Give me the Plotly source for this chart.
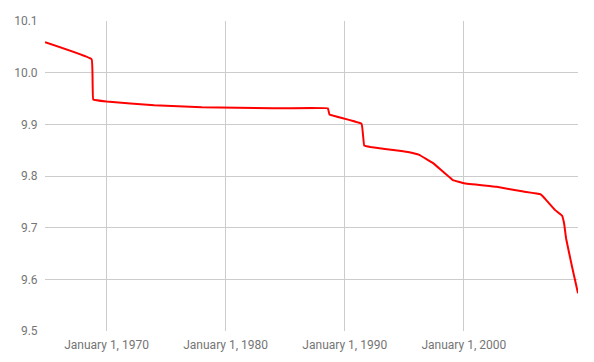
import plotly.graph_objects as go

dates = ["1964-11-01", "1968-10-01", "1968-11-20", "1970-01-01", "1974-01-01", "1978-01-01",
         "1984-01-01", "1988-08-01", "1988-09-20", "1991-06-01", "1991-08-20", "1992-03-01",
         "1994-08-01", "1995-06-01", "1996-04-01", "1997-06-01", "1999-02-01", "2000-01-01",
         "2002-10-01", "2005-01-01", "2006-06-01", "2006-09-01", "2007-09-01", "2008-04-01",
         "2008-06-01", "2008-08-01", "2009-02-01", "2009-08-01"]
values = [10.059, 10.026, 9.948, 9.944, 9.937, 9.933,
          9.931, 9.931, 9.919, 9.901, 9.859, 9.856,
          9.849, 9.846, 9.841, 9.825, 9.792, 9.786,
          9.779, 9.770, 9.765, 9.760, 9.734, 9.723,
          9.708, 9.679, 9.624, 9.573]
x_ticks = ["1970-01-01", "1980-01-01", "1990-01-01", "2000-01-01"]
x_tick_labels = ["January 1, 1970", "January 1, 1980", "January 1, 1990", "January 1, 2000"]
y_ticks = [9.5, 9.6, 9.7, 9.8, 9.9, 10.0, 10.1]

fig = go.Figure(go.Scatter(x=dates, y=values, mode="lines",
                           line=dict(color="#ff0000", width=2, shape="spline", smoothing=0.2),
                           hoverinfo="skip"))
fig.update_layout(
    width=578, height=346,
    margin=dict(l=37, r=8, t=13, b=23, autoexpand=False),
    paper_bgcolor="white", plot_bgcolor="white",
    font=dict(family="Roboto, Arial, sans-serif", size=12, color="#757575"),
    showlegend=False,
)
fig.update_xaxes(range=[dates[0], dates[-1]], tickvals=x_ticks, ticktext=x_tick_labels,
                 showgrid=True, gridcolor="#cccccc", gridwidth=1, zeroline=False,
                 showline=False, ticks="outside", ticklen=3, tickcolor="rgba(0,0,0,0)",
                 automargin=False)
fig.update_yaxes(range=[9.5, 10.1], tickvals=y_ticks, tickformat=".1f",
                 showgrid=True, gridcolor="#cccccc", gridwidth=1, zeroline=False,
                 showline=False, ticks="outside", ticklen=4, tickcolor="rgba(0,0,0,0)",
                 automargin=False)
fig.write_html("out.html")
